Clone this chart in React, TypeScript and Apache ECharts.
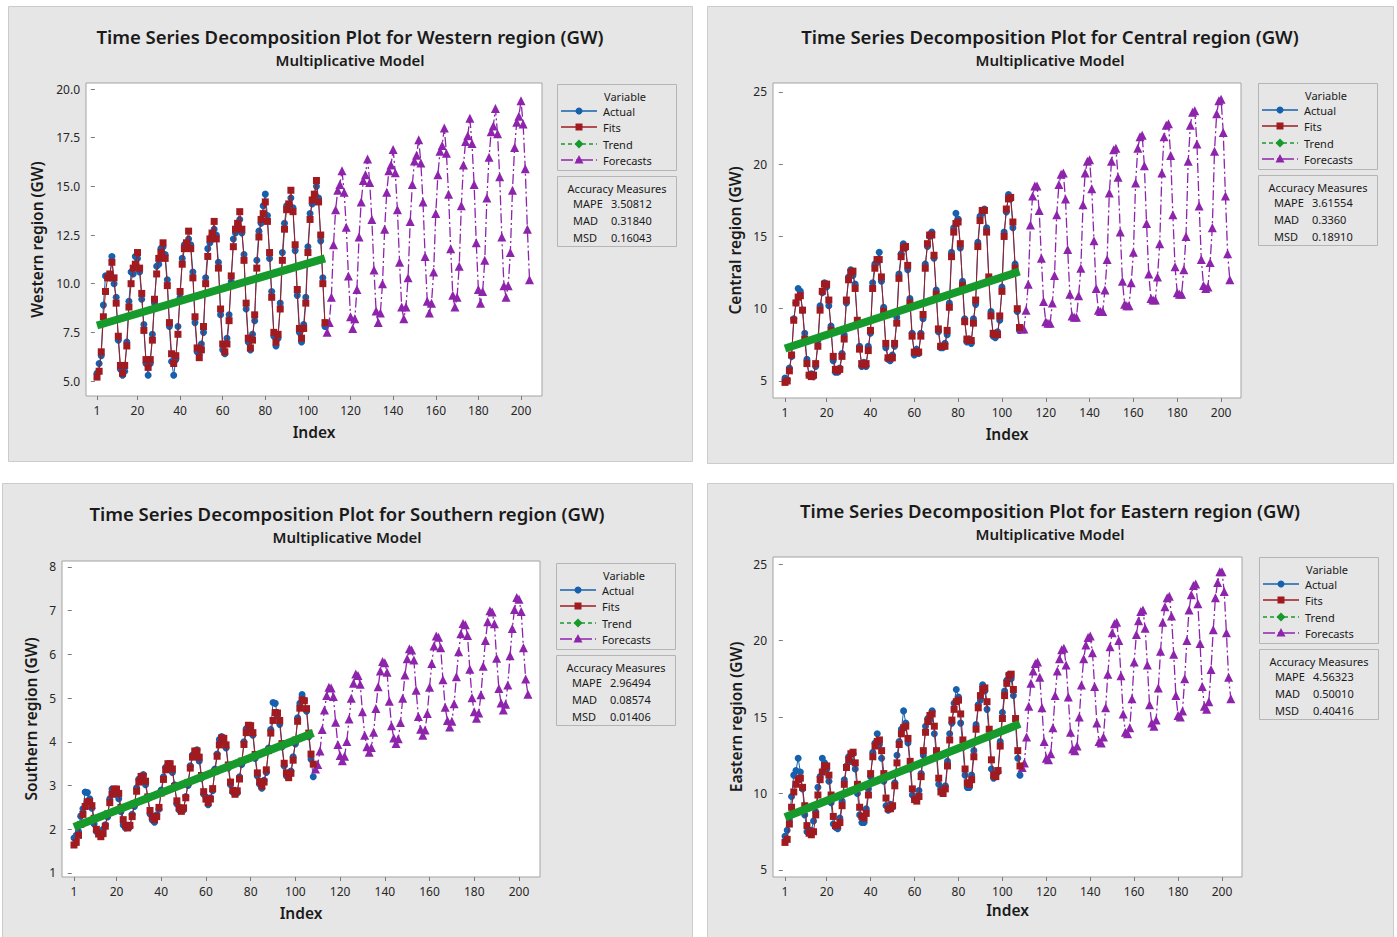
import React, { useEffect, useRef } from "react";
import * as echarts from "echarts";

// ---------- data ----------
const indexTicks = [1, 20, 40, 60, 80, 100, 120, 140, 160, 180, 200];
const trendIndex = [1, 108];
const forecastStart = 109;

const westernYTicks = [5, 7.5, 10, 12.5, 15, 17.5, 20];
const centralYTicks = [5, 10, 15, 20, 25];
const southernYTicks = [1, 2, 3, 4, 5, 6, 7, 8];
const easternYTicks = [5, 10, 15, 20, 25];

const measureNames = ["MAPE", "MAD", "MSD"];
const westernMeasures = ["3.50812", "0.31840", "0.16043"];
const centralMeasures = ["3.61554", "0.3360", "0.18910"];
const southernMeasures = ["2.96494", "0.08574", "0.01406"];
const easternMeasures = ["4.56323", "0.50010", "0.40416"];

const westernActual = [
  5.4, 5.9, 6.3, 8.9, 10.4, 10.4, 10.3, 11.4, 10.0, 9.3, 7.1, 5.6,
  5.3, 5.5, 7.0, 9.1, 10.6, 10.5, 11.4, 11.3, 10.6, 9.2, 7.9, 5.9,
  5.3, 5.9, 7.4, 9.0, 10.9, 11.0, 11.8, 11.9, 11.5, 10.2, 7.8, 6.0,
  5.3, 6.1, 7.8, 9.3, 11.3, 12.0, 11.9, 12.3, 12.0, 10.6, 8.0, 6.5,
  6.4, 6.9, 7.5, 10.3, 11.8, 12.1, 12.5, 12.8, 12.5, 11.1, 8.4, 6.6,
  6.4, 7.2, 8.4, 10.1, 12.3, 12.6, 13.0, 13.3, 12.6, 11.5, 8.7, 7.0,
  6.6, 7.4, 8.1, 11.2, 12.7, 13.1, 14.0, 14.6, 13.5, 11.3, 9.6, 7.3,
  6.8, 7.2, 9.0, 11.6, 13.1, 14.0, 13.9, 14.4, 13.9, 11.7, 9.4, 7.5,
  7.0, 7.9, 9.3, 11.9, 13.6, 14.1, 14.4, 15.0, 14.4, 12.2, 10.3, 7.8,
];
const westernFits = [
  5.2, 5.5, 6.5, 8.3, 9.6, 10.3, 10.5, 11.1, 10.3, 9.0, 7.3, 5.8,
  5.4, 5.8, 6.8, 8.8, 10.0, 10.8, 11.0, 11.6, 10.8, 9.5, 7.6, 6.1,
  5.7, 6.1, 7.1, 9.2, 10.5, 11.3, 11.6, 12.1, 11.3, 9.9, 8.0, 6.4,
  5.9, 6.3, 7.4, 9.6, 11.0, 11.8, 12.1, 12.7, 11.8, 10.3, 8.3, 6.7,
  6.2, 6.6, 7.8, 10.0, 11.4, 12.3, 12.6, 13.2, 12.3, 10.8, 8.7, 6.9,
  6.5, 6.9, 8.1, 10.4, 11.9, 12.8, 13.1, 13.7, 12.8, 11.2, 9.0, 7.2,
  6.7, 7.1, 8.4, 10.8, 12.4, 13.3, 13.6, 14.2, 13.2, 11.6, 9.3, 7.5,
  7.0, 7.4, 8.7, 11.2, 12.8, 13.8, 14.1, 14.8, 13.7, 12.0, 9.7, 7.7,
  7.2, 7.7, 9.0, 11.6, 13.3, 14.3, 14.6, 15.3, 14.2, 12.5, 10.0, 8.0,
];
const westernTrend = [7.85, 11.3];
const westernForecasts = [
  7.5, 8.0, 9.3, 12.0, 13.8, 14.8, 15.1, 15.8, 14.7, 12.9, 10.4, 8.3,
  7.7, 8.2, 9.7, 12.4, 14.2, 15.3, 15.6, 16.4, 15.2, 13.3, 10.7, 8.6,
  8.0, 8.5, 10.0, 12.8, 14.7, 15.8, 16.1, 16.9, 15.7, 13.8, 11.1, 8.8,
  8.2, 8.8, 10.3, 13.2, 15.1, 16.3, 16.6, 17.4, 16.2, 14.2, 11.4, 9.1,
  8.5, 9.0, 10.6, 13.6, 15.6, 16.8, 17.1, 18.0, 16.7, 14.6, 11.8, 9.4,
  8.8, 9.3, 10.9, 14.0, 16.1, 17.3, 17.6, 18.5, 17.2, 15.1, 12.1, 9.7,
  9.0, 9.6, 11.2, 14.4, 16.5, 17.8, 18.1, 19.0, 17.7, 15.5, 12.4, 9.9,
  9.3, 9.9, 11.6, 14.8, 17.0, 18.3, 18.6, 19.4, 18.2, 15.9, 12.8, 10.2,
];

const centralActual = [
  5.2, 5.1, 5.9, 6.7, 9.3, 10.4, 11.4, 11.2, 9.9, 8.3, 6.5, 5.4,
  5.5, 5.3, 6.0, 7.8, 10.2, 11.1, 11.8, 11.5, 10.2, 8.8, 6.4, 5.6,
  5.6, 5.9, 6.9, 8.2, 10.4, 12.2, 12.7, 12.3, 11.7, 9.0, 7.4, 6.0,
  6.3, 6.0, 7.4, 8.3, 11.8, 13.1, 13.2, 13.9, 11.9, 10.1, 7.3, 6.5,
  6.4, 6.8, 7.4, 9.4, 12.4, 13.8, 14.5, 14.2, 12.7, 10.7, 8.3, 6.8,
  7.2, 6.9, 8.3, 9.3, 13.1, 14.3, 15.0, 15.3, 13.5, 11.3, 8.4, 7.3,
  7.3, 7.6, 8.2, 10.4, 13.9, 15.6, 16.6, 16.2, 14.2, 11.9, 9.3, 7.7,
  7.9, 7.6, 9.3, 10.3, 14.6, 16.4, 16.6, 16.9, 15.6, 12.0, 9.8, 8.1,
  8.0, 8.4, 9.2, 11.5, 15.3, 16.7, 17.9, 17.6, 15.6, 13.1, 9.8, 8.5,
];
const centralFits = [
  4.9, 5.0, 5.7, 6.8, 9.2, 10.4, 10.8, 10.9, 9.9, 7.9, 6.2, 5.4,
  5.3, 5.4, 6.2, 7.4, 9.9, 11.2, 11.7, 11.7, 10.6, 8.5, 6.7, 5.8,
  5.7, 5.8, 6.7, 7.9, 10.6, 12.0, 12.5, 12.6, 11.4, 9.2, 7.2, 6.2,
  6.1, 6.2, 7.1, 8.5, 11.4, 12.8, 13.4, 13.4, 12.2, 9.8, 7.6, 6.6,
  6.6, 6.6, 7.6, 9.0, 12.1, 13.6, 14.2, 14.3, 13.0, 10.4, 8.1, 7.0,
  7.0, 7.0, 8.1, 9.6, 12.8, 14.5, 15.1, 15.1, 13.7, 11.0, 8.6, 7.4,
  7.4, 7.4, 8.5, 10.1, 13.6, 15.3, 15.9, 16.0, 14.5, 11.6, 9.1, 7.9,
  7.8, 7.8, 9.0, 10.6, 14.3, 16.1, 16.8, 16.8, 15.3, 12.2, 9.5, 8.3,
  8.2, 8.2, 9.5, 11.2, 15.0, 16.9, 17.6, 17.7, 16.0, 12.8, 10.0, 8.7,
];
const centralTrend = [7.25, 12.57];
const centralForecasts = [
  8.6, 8.6, 9.9, 11.7, 15.8, 17.8, 18.5, 18.5, 16.8, 13.5, 10.5, 9.1,
  9.0, 9.0, 10.4, 12.3, 16.5, 18.6, 19.3, 19.4, 17.6, 14.1, 11.0, 9.5,
  9.4, 9.4, 10.9, 12.8, 17.2, 19.4, 20.2, 20.3, 18.3, 14.7, 11.4, 9.9,
  9.8, 9.8, 11.3, 13.4, 18.0, 20.2, 21.0, 21.1, 19.1, 15.3, 11.9, 10.3,
  10.2, 10.2, 11.8, 13.9, 18.7, 21.1, 21.9, 22.0, 19.9, 15.9, 12.4, 10.7,
  10.6, 10.6, 12.2, 14.5, 19.4, 21.9, 22.7, 22.8, 20.6, 16.5, 12.9, 11.1,
  11.0, 11.0, 12.7, 15.0, 20.2, 22.7, 23.6, 23.7, 21.4, 17.1, 13.4, 11.6,
  11.4, 11.5, 13.2, 15.6, 20.9, 23.5, 24.4, 24.5, 22.2, 17.8, 13.8, 12.0,
];

const southernActual = [
  1.80, 1.86, 1.95, 2.30, 2.47, 2.85, 2.84, 2.70, 2.48, 2.12, 1.95, 1.93,
  1.88, 2.00, 2.10, 2.28, 2.70, 2.92, 2.88, 2.80, 2.70, 2.40, 2.10, 2.03,
  2.07, 2.05, 2.34, 2.52, 2.95, 3.15, 3.12, 3.25, 3.02, 2.70, 2.35, 2.21,
  2.16, 2.33, 2.46, 2.90, 3.20, 3.42, 3.47, 3.40, 3.30, 3.02, 2.58, 2.44,
  2.47, 2.44, 2.75, 3.00, 3.45, 3.70, 3.72, 3.82, 3.56, 3.17, 2.80, 2.74,
  2.56, 2.72, 2.88, 3.38, 3.72, 4.05, 4.12, 4.00, 3.86, 3.40, 3.02, 2.85,
  2.84, 2.83, 3.20, 3.48, 4.00, 4.30, 4.36, 4.28, 4.15, 3.62, 3.22, 3.03,
  2.94, 3.12, 3.30, 3.86, 4.28, 4.90, 4.88, 4.60, 4.40, 3.88, 3.45, 3.22,
  3.22, 3.33, 3.66, 3.95, 4.55, 4.88, 5.08, 4.95, 4.70, 4.12, 3.60, 3.20,
];
const southernFits = [
  1.64, 1.70, 1.86, 2.11, 2.34, 2.52, 2.63, 2.63, 2.54, 2.25, 2.00, 1.89,
  1.83, 1.90, 2.07, 2.35, 2.61, 2.80, 2.92, 2.92, 2.82, 2.50, 2.22, 2.09,
  2.03, 2.09, 2.29, 2.59, 2.87, 3.08, 3.21, 3.21, 3.10, 2.74, 2.43, 2.29,
  2.22, 2.29, 2.50, 2.83, 3.14, 3.36, 3.50, 3.50, 3.38, 2.98, 2.65, 2.49,
  2.41, 2.49, 2.72, 3.07, 3.40, 3.65, 3.79, 3.79, 3.65, 3.23, 2.86, 2.69,
  2.61, 2.69, 2.93, 3.32, 3.67, 3.93, 4.09, 4.08, 3.93, 3.47, 3.08, 2.89,
  2.80, 2.88, 3.15, 3.56, 3.94, 4.21, 4.38, 4.37, 4.21, 3.71, 3.29, 3.09,
  2.99, 3.08, 3.36, 3.80, 4.20, 4.49, 4.67, 4.66, 4.49, 3.96, 3.51, 3.29,
  3.18, 3.28, 3.58, 4.04, 4.47, 4.77, 4.96, 4.94, 4.76, 4.20, 3.72, 3.49,
];
const southernTrend = [2.05, 4.2];
const southernForecasts = [
  3.38, 3.48, 3.79, 4.28, 4.73, 5.06, 5.25, 5.23, 5.04, 4.45, 3.94, 3.69,
  3.57, 3.67, 4.01, 4.52, 5.00, 5.34, 5.55, 5.52, 5.32, 4.69, 4.15, 3.89,
  3.76, 3.87, 4.22, 4.76, 5.26, 5.62, 5.84, 5.81, 5.59, 4.93, 4.37, 4.09,
  3.96, 4.07, 4.44, 5.00, 5.53, 5.90, 6.13, 6.10, 5.87, 5.18, 4.58, 4.29,
  4.15, 4.27, 4.65, 5.25, 5.79, 6.19, 6.42, 6.39, 6.15, 5.42, 4.79, 4.49,
  4.34, 4.47, 4.87, 5.49, 6.06, 6.47, 6.71, 6.68, 6.43, 5.66, 5.01, 4.69,
  4.54, 4.66, 5.08, 5.73, 6.32, 6.75, 7.00, 6.97, 6.70, 5.91, 5.22, 4.89,
  4.73, 4.86, 5.30, 5.97, 6.59, 7.03, 7.30, 7.26, 6.98, 6.15, 5.44, 5.09,
];

const easternActual = [
  7.2, 7.6, 8.3, 9.8, 11.2, 11.5, 12.3, 11.4, 10.3, 8.6, 7.5, 7.6,
  7.6, 8.2, 8.8, 10.4, 11.1, 12.3, 12.0, 11.6, 10.8, 9.4, 8.0, 7.8,
  7.7, 8.4, 9.5, 10.9, 11.8, 12.4, 12.1, 12.6, 11.6, 10.0, 8.6, 8.1,
  8.1, 9.0, 10.3, 11.1, 12.7, 13.3, 13.9, 13.2, 12.3, 10.8, 9.2, 8.9,
  9.3, 9.1, 10.7, 12.5, 13.4, 14.2, 15.4, 14.6, 13.3, 11.6, 9.9, 9.7,
  9.6, 10.2, 11.3, 12.5, 14.4, 14.9, 14.8, 15.4, 13.9, 12.4, 10.6, 10.3,
  10.3, 10.5, 12.1, 13.9, 14.6, 15.9, 16.8, 16.3, 14.6, 13.0, 11.2, 10.4,
  10.4, 11.2, 12.8, 14.5, 15.8, 16.1, 17.1, 16.7, 15.5, 13.7, 11.6, 11.0,
  11.3, 11.4, 13.4, 15.3, 16.7, 17.4, 17.8, 17.5, 16.4, 14.5, 12.3, 11.2,
];
const easternFits = [
  6.8, 7.0, 8.0, 9.1, 10.1, 10.6, 10.9, 11.0, 10.4, 9.2, 7.9, 7.4,
  7.3, 7.5, 8.6, 9.9, 10.9, 11.4, 11.8, 11.8, 11.2, 9.9, 8.5, 7.9,
  7.9, 8.1, 9.2, 10.6, 11.7, 12.2, 12.6, 12.7, 12.0, 10.6, 9.1, 8.5,
  8.4, 8.7, 9.9, 11.3, 12.4, 13.1, 13.4, 13.5, 12.8, 11.3, 9.7, 9.0,
  9.0, 9.2, 10.5, 12.0, 13.2, 13.9, 14.3, 14.4, 13.6, 12.1, 10.3, 9.6,
  9.5, 9.8, 11.1, 12.8, 14.0, 14.7, 15.1, 15.2, 14.4, 12.8, 11.0, 10.1,
  10.0, 10.3, 11.8, 13.5, 14.8, 15.5, 16.0, 16.1, 15.2, 13.5, 11.6, 10.7,
  10.6, 10.9, 12.4, 14.2, 15.6, 16.4, 16.8, 16.9, 16.0, 14.2, 12.2, 11.2,
  11.1, 11.5, 13.1, 14.9, 16.4, 17.2, 17.7, 17.8, 16.8, 14.9, 12.8, 11.8,
];
const easternTrend = [8.45, 14.55];
const easternForecasts = [
  11.7, 12.0, 13.7, 15.7, 17.2, 18.0, 18.5, 18.6, 17.6, 15.6, 13.4, 12.3,
  12.2, 12.6, 14.3, 16.4, 18.0, 18.8, 19.4, 19.5, 18.4, 16.3, 14.0, 12.9,
  12.8, 13.1, 15.0, 17.1, 18.8, 19.7, 20.2, 20.3, 19.2, 17.0, 14.6, 13.4,
  13.3, 13.7, 15.6, 17.8, 19.6, 20.5, 21.1, 21.2, 20.0, 17.7, 15.2, 14.0,
  13.9, 14.3, 16.2, 18.6, 20.4, 21.3, 21.9, 22.0, 20.8, 18.4, 15.8, 14.6,
  14.4, 14.8, 16.9, 19.3, 21.2, 22.2, 22.8, 22.9, 21.6, 19.1, 16.4, 15.1,
  15.0, 15.4, 17.5, 20.0, 22.0, 23.0, 23.6, 23.7, 22.4, 19.8, 17.0, 15.7,
  15.5, 16.0, 18.1, 20.7, 22.8, 23.8, 24.5, 24.5, 23.2, 20.5, 17.6, 16.2,
];

// ---------- styling / layout ----------
const FONT = "'Noto Sans', 'Open Sans', sans-serif";
const BLUE = "#1660ad";
const RED = "#a01a1f";
const GREEN = "#169a2c";
const PURPLE = "#8e24ac";
const PANEL_FILL = "#e6e6e6";
const PANEL_STROKE = "#cbcbcb";

const panels = [
  {
    region: "Western",
    actual: westernActual, fits: westernFits, trend: westernTrend, forecasts: westernForecasts,
    yTicks: westernYTicks, yDecimals: 1, measures: westernMeasures,
    box: { x: 8, y: 6, w: 684, h: 455 },
    grid: { left: 86, top: 83, width: 456, height: 313 },
    xRange: [-4.16, 209.86], yRange: [4.23, 20.31],
    legend: { x: 557, y: 84 }, cx: 350, titleY: 36, subY: 60, xNameY: 432, yNameX: 37,
  },
  {
    region: "Central",
    actual: centralActual, fits: centralFits, trend: centralTrend, forecasts: centralForecasts,
    yTicks: centralYTicks, yDecimals: 0, measures: centralMeasures,
    box: { x: 707, y: 6, w: 686, h: 457 },
    grid: { left: 773, top: 83, width: 468, height: 315 },
    xRange: [-4.48, 209.1], yRange: [3.82, 25.62],
    legend: { x: 1258, y: 83 }, cx: 1050, titleY: 36, subY: 60, xNameY: 434, yNameX: 735,
  },
  {
    region: "Southern",
    actual: southernActual, fits: southernFits, trend: southernTrend, forecasts: southernForecasts,
    yTicks: southernYTicks, yDecimals: 0, measures: southernMeasures,
    box: { x: 2, y: 483, w: 690, h: 460 },
    grid: { left: 62, top: 561, width: 478, height: 316 },
    xRange: [-4.37, 209.4], yRange: [0.908, 8.137],
    legend: { x: 556, y: 563 }, cx: 347, titleY: 513, subY: 537, xNameY: 913, yNameX: 31,
  },
  {
    region: "Eastern",
    actual: easternActual, fits: easternFits, trend: easternTrend, forecasts: easternForecasts,
    yTicks: easternYTicks, yDecimals: 0, measures: easternMeasures,
    box: { x: 707, y: 483, w: 686, h: 460 },
    grid: { left: 773, top: 557, width: 469, height: 320 },
    xRange: [-4.46, 209.1], yRange: [4.54, 25.46],
    legend: { x: 1259, y: 557 }, cx: 1050, titleY: 510, subY: 534, xNameY: 910, yNameX: 736,
  },
];

function txt(x: number, y: number, text: string, size: number, weight: any, align: string, extra: any = {}) {
  return {
    type: "text", x, y, z: 20, silent: true, ...extra,
    style: { text, fontSize: size, fontWeight: weight, fontFamily: FONT, fill: "#1a1a1a", align, verticalAlign: "middle" },
  };
}

function legendGraphics(lx: number, ly: number, measures: string[]) {
  const els: any[] = [];
  els.push({ type: "rect", z: 5, silent: true, shape: { x: lx + 0.5, y: ly + 0.5, width: 119, height: 86 }, style: { fill: PANEL_FILL, stroke: "#b5b5b5", lineWidth: 1 } });
  els.push({ type: "rect", z: 5, silent: true, shape: { x: lx + 0.5, y: ly + 92.5, width: 119, height: 70 }, style: { fill: PANEL_FILL, stroke: "#b5b5b5", lineWidth: 1 } });
  els.push(txt(lx + 68, ly + 12, "Variable", 11, "normal", "center"));
  const items = [
    { name: "Actual", color: BLUE, dash: null, sym: "circle" },
    { name: "Fits", color: RED, dash: null, sym: "square" },
    { name: "Trend", color: GREEN, dash: [4, 3], sym: "diamond" },
    { name: "Forecasts", color: PURPLE, dash: [12, 3, 2, 3], sym: "triangle" },
  ];
  const rows = [27, 43, 60, 76];
  items.forEach((it, i) => {
    const y = ly + rows[i];
    const sx = lx + 22;
    els.push({ type: "line", z: 20, silent: true, shape: { x1: lx + 4, y1: y, x2: lx + 40, y2: y }, style: { stroke: it.color, lineWidth: 1.3, lineDash: it.dash || undefined } });
    if (it.sym === "circle") els.push({ type: "circle", z: 21, silent: true, shape: { cx: sx, cy: y, r: 3.5 }, style: { fill: it.color } });
    if (it.sym === "square") els.push({ type: "rect", z: 21, silent: true, shape: { x: sx - 3.5, y: y - 3.5, width: 7, height: 7 }, style: { fill: it.color } });
    if (it.sym === "diamond") els.push({ type: "polygon", z: 21, silent: true, shape: { points: [[sx, y - 4.5], [sx + 4.5, y], [sx, y + 4.5], [sx - 4.5, y]] }, style: { fill: it.color } });
    if (it.sym === "triangle") els.push({ type: "polygon", z: 21, silent: true, shape: { points: [[sx, y - 5], [sx + 4.5, y + 3.5], [sx - 4.5, y + 3.5]] }, style: { fill: it.color } });
    els.push(txt(lx + 46, y, it.name, 11, "normal", "left"));
  });
  els.push(txt(lx + 60, ly + 104, "Accuracy Measures", 11, "normal", "center"));
  const mrows = [119, 136, 153];
  measureNames.forEach((m, i) => {
    els.push(txt(lx + 16, ly + mrows[i], m, 11, "normal", "left"));
    els.push(txt(lx + 54, ly + mrows[i], measures[i], 11, "normal", "left"));
  });
  return els;
}

function buildOption() {
  const grid: any[] = [];
  const xAxis: any[] = [];
  const yAxis: any[] = [];
  const series: any[] = [];
  const graphic: any[] = [];

  panels.forEach((p, k) => {
    grid.push({ ...p.grid, show: true, backgroundColor: "#ffffff", borderColor: "#a3a3a3", borderWidth: 1, containLabel: false });
    xAxis.push({
      type: "value", gridIndex: k, min: p.xRange[0], max: p.xRange[1],
      axisLine: { show: false }, splitLine: { show: false },
      axisTick: { show: true, length: 4, lineStyle: { color: "#7a7a7a" }, customValues: indexTicks },
      axisLabel: { customValues: indexTicks, fontSize: 12, color: "#262626", margin: 8, fontFamily: FONT },
    });
    yAxis.push({
      type: "value", gridIndex: k, min: p.yRange[0], max: p.yRange[1],
      axisLine: { show: false }, splitLine: { show: false },
      axisTick: { show: true, length: 4, lineStyle: { color: "#7a7a7a" }, customValues: p.yTicks },
      axisLabel: {
        customValues: p.yTicks, fontSize: 12, color: "#262626", margin: 6, fontFamily: FONT,
        formatter: (v: number) => v.toFixed(p.yDecimals),
      },
    });

    series.push({
      name: "Actual", type: "line", xAxisIndex: k, yAxisIndex: k, z: 3,
      data: p.actual.map((v, i) => [i + 1, v]),
      symbol: "circle", symbolSize: 7, showSymbol: true,
      lineStyle: { color: BLUE, width: 1 }, itemStyle: { color: BLUE },
    });
    series.push({
      name: "Fits", type: "line", xAxisIndex: k, yAxisIndex: k, z: 4,
      data: p.fits.map((v, i) => [i + 1, v]),
      symbol: "rect", symbolSize: 7, showSymbol: true,
      lineStyle: { color: RED, width: 1 }, itemStyle: { color: RED },
    });
    series.push({
      name: "Forecasts", type: "line", xAxisIndex: k, yAxisIndex: k, z: 3,
      data: p.forecasts.map((v, i) => [forecastStart + i, v]),
      symbol: "triangle", symbolSize: 9, showSymbol: true,
      lineStyle: { color: PURPLE, width: 1.3, type: [10, 3, 2, 3] }, itemStyle: { color: PURPLE },
    });
    series.push({
      name: "Trend", type: "line", xAxisIndex: k, yAxisIndex: k, z: 5,
      data: p.trend.map((v, i) => [trendIndex[i], v]),
      symbol: "none",
      lineStyle: { color: GREEN, width: 8, cap: "butt" }, itemStyle: { color: GREEN },
    });

    graphic.push({ type: "rect", z: -10, silent: true, shape: { x: p.box.x + 0.5, y: p.box.y + 0.5, width: p.box.w, height: p.box.h }, style: { fill: PANEL_FILL, stroke: PANEL_STROKE, lineWidth: 1 } });
    graphic.push(txt(p.cx, p.titleY, `Time Series Decomposition Plot for ${p.region} region (GW)`, 18.5, 600, "center"));
    graphic.push(txt(p.cx, p.subY, "Multiplicative Model", 15, 600, "center"));
    graphic.push(txt(p.grid.left + p.grid.width / 2, p.xNameY, "Index", 15.5, 600, "center"));
    graphic.push(txt(p.yNameX, p.grid.top + p.grid.height / 2, `${p.region} region (GW)`, 15.5, 600, "center", { rotation: Math.PI / 2 }));
    legendGraphics(p.legend.x, p.legend.y, p.measures).forEach((e) => graphic.push(e));
  });

  return {
    animation: false,
    backgroundColor: "#ffffff",
    grid, xAxis, yAxis, series, graphic,
  };
}

export default function App() {
  const ref = useRef<HTMLDivElement>(null);
  useEffect(() => {
    if (!ref.current) return;
    const chart = echarts.init(ref.current, undefined, { renderer: "svg" });
    chart.setOption(buildOption() as any);
    return () => chart.dispose();
  }, []);
  return <div ref={ref} style={{ position: "absolute", left: 0, top: 0, width: 1397, height: 937 }} />;
}
